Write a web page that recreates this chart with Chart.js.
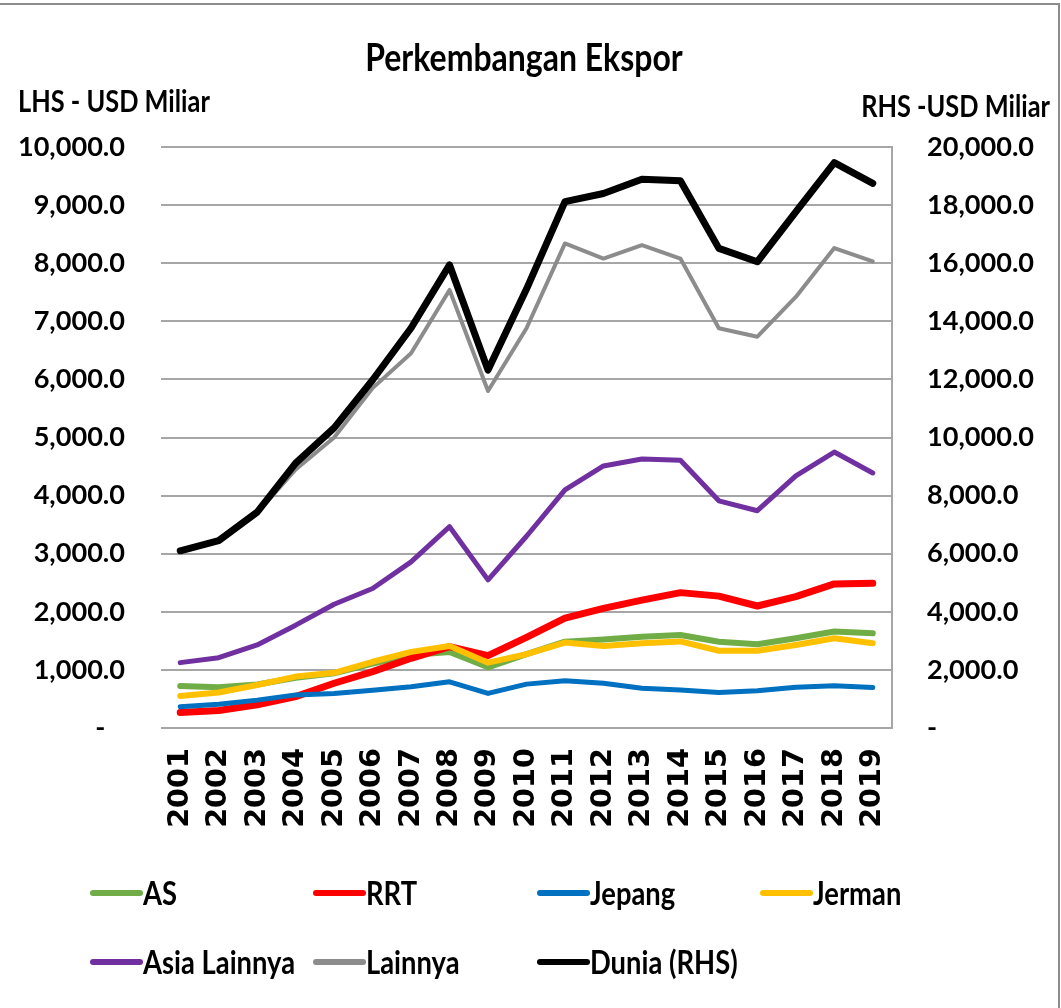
<!DOCTYPE html>
<html>
<head>
<meta charset="utf-8">
<script src="https://cdn.jsdelivr.net/npm/chart.js@4/dist/chart.umd.min.js"></script>
<style>
  html, body { margin: 0; padding: 0; background: #fff; }
  #wrap { position: relative; width: 1061px; height: 1008px; overflow: hidden; }
  #c { position: absolute; left: 0; top: 0; }
  .frameTop { position: absolute; left: 0; top: 3px; width: 1060px; height: 2px; background: #8c8c8c; }
  .frameRight { position: absolute; left: 1058px; top: 3px; width: 2px; height: 1005px; background: #8c8c8c; }
</style>
</head>
<body>
<div id="wrap">
  <canvas id="c" width="1061" height="1008"></canvas>
  <div class="frameTop"></div>
  <div class="frameRight"></div>
</div>
<script>
// ---- Data ----
const years = ['2001','2002','2003','2004','2005','2006','2007','2008','2009','2010',
               '2011','2012','2013','2014','2015','2016','2017','2018','2019'];
const seriesNames = ['AS', 'RRT', 'Jepang', 'Jerman', 'Asia Lainnya', 'Lainnya', 'Dunia (RHS)'];
const AS          = [723, 700, 750, 865, 940, 1110, 1255, 1310, 1045, 1270, 1485, 1525, 1570, 1600, 1485, 1440, 1545, 1660, 1630];
const RRT         = [266, 300, 400, 540, 770, 970, 1200, 1400, 1245, 1560, 1890, 2060, 2200, 2330, 2270, 2100, 2260, 2480, 2490];
const Jepang      = [365, 410, 480, 570, 595, 650, 710, 795, 595, 755, 815, 770, 683, 655, 610, 640, 700, 728, 695];
const Jerman      = [550, 610, 740, 885, 950, 1140, 1310, 1410, 1125, 1270, 1470, 1410, 1460, 1490, 1330, 1330, 1430, 1545, 1460];
const AsiaLainnya = [1125, 1210, 1430, 1770, 2130, 2400, 2860, 3465, 2550, 3300, 4100, 4510, 4630, 4610, 3910, 3740, 4340, 4750, 4390];
const Lainnya     = [3050, 3220, 3700, 4450, 5000, 5850, 6450, 7540, 5800, 6880, 8340, 8080, 8310, 8080, 6880, 6735, 7420, 8260, 8030];
const Dunia       = [6100, 6450, 7430, 9120, 10330, 11980, 13770, 15940, 12320, 15110, 18120, 18400, 18890, 18840, 16510, 16050, 17770, 19460, 18750];
const lhsTicks = [0, 1000, 2000, 3000, 4000, 5000, 6000, 7000, 8000, 9000, 10000];
const rhsTicks = [0, 2000, 4000, 6000, 8000, 10000, 12000, 14000, 16000, 18000, 20000];

// ---- Styles ----
const FONT = "Lato, 'Open Sans', sans-serif";
const colors = ['#70AD47', '#FF0000', '#0070C0', '#FFC000', '#7030A0', '#8C8C8C', '#000000'];
const widths = [6, 7, 5, 6, 5, 4, 7];
const values = [AS, RRT, Jepang, Jerman, AsiaLainnya, Lainnya, Dunia];
const axes = ['y', 'y', 'y', 'y', 'y', 'y', 'y2'];

// font size that makes a text span a target width
const mctx = document.createElement('canvas').getContext('2d');
function fitSize(text, family, target) {
  mctx.font = 'bold 100px ' + family;
  return Math.round(100 * target / mctx.measureText(text).width * 10) / 10;
}
const SQ = 0.84; // horizontal squeeze for decor text (condensed look)
const tickSize = fitSize('10,000.0', FONT, 107);
const titleSize = fitSize('Perkembangan Ekspor', FONT, 318 / SQ);
const unitSize = fitSize('LHS - USD Miliar', FONT, 192 / SQ);
const legendSize = fitSize('Asia Lainnya', FONT, 152 / SQ);
const xSize = fitSize('2001', "'DejaVu Sans'", 80);

const datasets = seriesNames.map((name, i) => ({
  label: name,
  data: values[i],
  yAxisID: axes[i],
  borderColor: colors[i],
  backgroundColor: colors[i],
  borderWidth: widths[i],
  pointRadius: 0,
  pointHoverRadius: 0,
  tension: 0,
  fill: false,
  borderCapStyle: 'round',
  borderJoinStyle: 'round',
  order: seriesNames.length - i
}));

function fmt(v) {
  return v.toLocaleString('en-US', { minimumFractionDigits: 1, maximumFractionDigits: 1 });
}

function squeezedText(ctx, text, x, y, align) {
  ctx.save();
  ctx.translate(x, y);
  ctx.scale(SQ, 1);
  ctx.textAlign = align;
  ctx.fillText(text, 0, 0);
  ctx.restore();
}

const decorPlugin = {
  id: 'decor',
  afterDraw(chart) {
    const ctx = chart.ctx;
    ctx.save();
    ctx.fillStyle = '#000';
    ctx.textBaseline = 'middle';
    // Title
    ctx.font = 'bold ' + titleSize + 'px ' + FONT;
    squeezedText(ctx, 'Perkembangan Ekspor', 524, 59, 'center');
    // Axis unit labels
    ctx.font = 'bold ' + unitSize + 'px ' + FONT;
    squeezedText(ctx, 'LHS - USD Miliar', 18, 102, 'left');
    squeezedText(ctx, 'RHS -USD Miliar', 1050, 107, 'right');
    // Legend (grid of 4 columns)
    const colX = [90, 313, 537, 760];
    const rowY = [893, 962];
    ctx.font = 'bold ' + legendSize + 'px ' + FONT;
    chart.data.datasets.forEach((ds, i) => {
      const x = colX[i % 4];
      const y = rowY[Math.floor(i / 4)];
      ctx.strokeStyle = ds.borderColor;
      ctx.lineWidth = 6;
      ctx.lineCap = 'round';
      ctx.beginPath();
      ctx.moveTo(x + 3, y);
      ctx.lineTo(x + 50, y);
      ctx.stroke();
      ctx.fillStyle = '#000';
      squeezedText(ctx, ds.label, x + 53, y + 1, 'left');
    });
    ctx.restore();
  }
};

new Chart(document.getElementById('c'), {
  type: 'line',
  data: { labels: years, datasets: datasets },
  options: {
    responsive: false,
    animation: false,
    devicePixelRatio: 1,
    layout: { padding: { top: 147, bottom: 170, left: 0, right: 0 } },
    plugins: {
      legend: { display: false },
      title: { display: false },
      tooltip: { enabled: false }
    },
    scales: {
      x: {
        type: 'category',
        offset: true,
        grid: { display: false, drawTicks: false },
        border: { display: false },
        ticks: {
          autoSkip: false,
          maxRotation: 90,
          minRotation: 90,
          padding: 20,
          color: '#000',
          font: { family: "'DejaVu Sans', sans-serif", size: xSize, weight: 'bold' }
        },
        afterFit(scale) { scale.height = 110; }
      },
      y: {
        position: 'left',
        min: 0,
        max: 10000,
        afterBuildTicks(scale) { scale.ticks = lhsTicks.map(v => ({ value: v })); },
        grid: { color: '#a6a6a6', lineWidth: 2, drawTicks: false },
        border: { display: false },
        ticks: {
          padding: 36,
          color: '#000',
          font: { family: FONT, size: tickSize, weight: 'bold' },
          callback: (v) => v === 0 ? '-   ' : fmt(v)
        },
        afterFit(scale) { scale.width = 161; }
      },
      y2: {
        position: 'right',
        min: 0,
        max: 20000,
        afterBuildTicks(scale) { scale.ticks = rhsTicks.map(v => ({ value: v })); },
        grid: { display: false, drawTicks: false },
        border: { display: true, color: '#a6a6a6', width: 2 },
        ticks: {
          padding: 35,
          color: '#000',
          font: { family: FONT, size: tickSize, weight: 'bold' },
          callback: (v) => v === 0 ? '-' : fmt(v)
        },
        afterFit(scale) { scale.width = 169; }
      }
    }
  },
  plugins: [decorPlugin]
});
</script>
</body>
</html>
